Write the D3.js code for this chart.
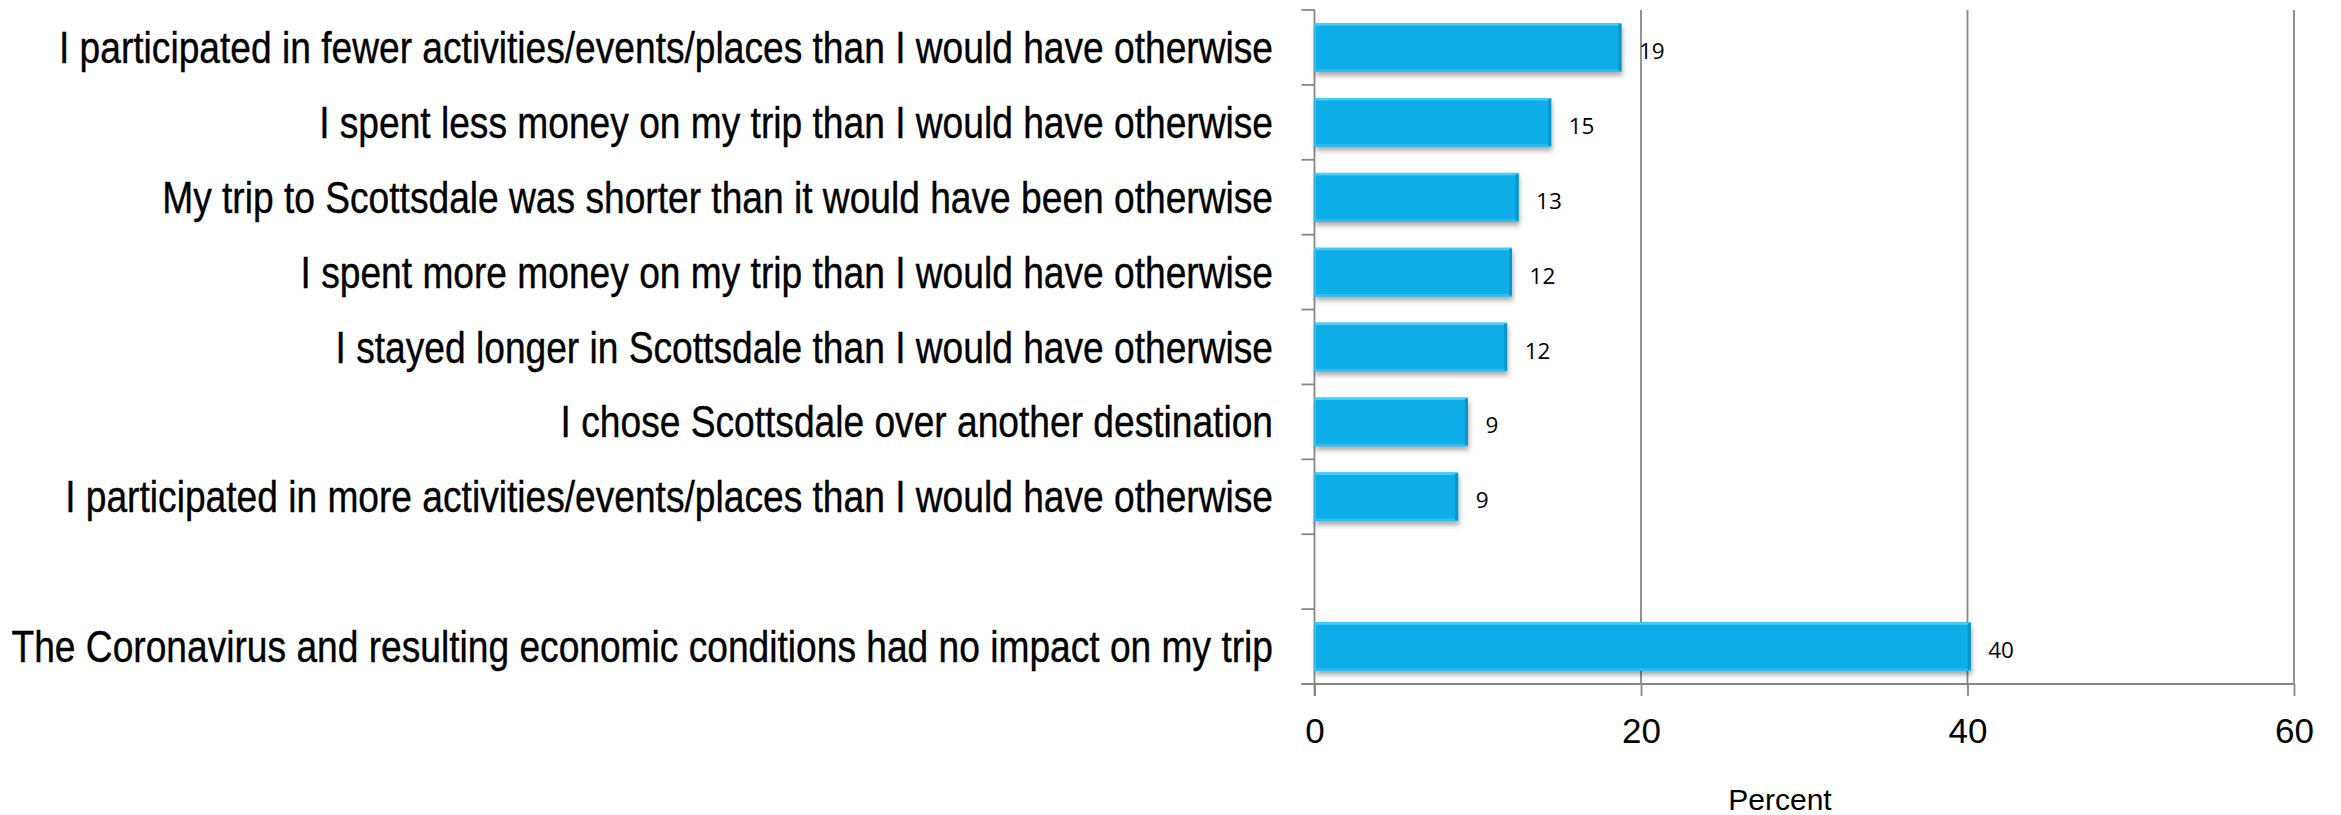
<!DOCTYPE html>
<html>
<head>
<meta charset="utf-8">
<script src="https://cdn.jsdelivr.net/npm/d3@7"></script>
<style>
  html, body { margin: 0; padding: 0; background: #ffffff; }
  svg { display: block; }
</style>
</head>
<body>
<svg id="chart" width="2341" height="815"></svg>
<script>
// ---- data ----
const categories = [
  "I participated in fewer activities/events/places than I would have otherwise",
  "I spent less money on my trip than I would have otherwise",
  "My trip to Scottsdale was shorter than it would have been otherwise",
  "I spent more money on my trip than I would have otherwise",
  "I stayed longer in Scottsdale than I would have otherwise",
  "I chose Scottsdale over another destination",
  "I participated in more activities/events/places than I would have otherwise",
  "",
  "The Coronavirus and resulting economic conditions had no impact on my trip"
];
const values = [18.8, 14.5, 12.5, 12.1, 11.8, 9.4, 8.8, null, 40.2];
const xTicks = [0, 20, 40, 60];
const xTitle = "Percent";

// ---- layout ----
const plotLeft = 1314.5, plotRight = 2294, plotTop = 10, plotBottom = 684;
const svg = d3.select("#chart");

const x = d3.scaleLinear().domain([0, 60]).range([plotLeft, plotRight]);
const y = d3.scaleBand().domain(d3.range(categories.length))
  .range([plotTop, plotBottom]).paddingInner(0.35).paddingOuter(0.175);

const gridColor = "#878787";

// defs: shadow
const defs = svg.append("defs");
const f = defs.append("filter").attr("id", "shadow")
  .attr("x", "-5%").attr("y", "-20%").attr("width", "115%").attr("height", "160%");
f.append("feDropShadow").attr("dx", 1).attr("dy", 4).attr("stdDeviation", 2.5)
  .attr("flood-color", "#000").attr("flood-opacity", 0.33);

// gridlines
svg.append("g").selectAll("line").data(xTicks.filter(d => d > 0)).join("line")
  .attr("x1", d => x(d)).attr("x2", d => x(d))
  .attr("y1", plotTop).attr("y2", plotBottom)
  .attr("stroke", gridColor).attr("stroke-width", 1.8);

// x axis
const xAxis = svg.append("g").attr("transform", `translate(0,${plotBottom})`)
  .call(d3.axisBottom(x).tickValues(xTicks).tickSize(12).tickPadding(22).tickSizeOuter(0));
xAxis.select(".domain").remove();
xAxis.selectAll(".tick line").attr("stroke", gridColor).attr("stroke-width", 1.8);
xAxis.selectAll(".tick text").attr("font-family", "'Liberation Sans', Arial, sans-serif")
  .attr("font-size", 35).attr("fill", "#000").attr("dy", "0.71em");
svg.append("line").attr("x1", plotLeft - 13).attr("x2", plotRight)
  .attr("y1", plotBottom).attr("y2", plotBottom)
  .attr("stroke", gridColor).attr("stroke-width", 1.8);

// y axis line & ticks at band boundaries
svg.append("line").attr("x1", plotLeft).attr("x2", plotLeft)
  .attr("y1", plotTop).attr("y2", plotBottom + 12)
  .attr("stroke", gridColor).attr("stroke-width", 1.8);
const step = y.step();
svg.append("g").selectAll("line").data(d3.range(categories.length + 1)).join("line")
  .attr("x1", plotLeft - 13).attr("x2", plotLeft)
  .attr("y1", i => plotTop + i * step).attr("y2", i => plotTop + i * step)
  .attr("stroke", gridColor).attr("stroke-width", 1.8);

// bars
const barData = categories.map((c, i) => ({ c, i, v: values[i] })).filter(d => d.v != null);
const bars = svg.append("g").selectAll("g").data(barData).join("g");
bars.append("rect")
  .attr("x", x(0)).attr("y", d => y(d.i))
  .attr("width", d => x(d.v) - x(0)).attr("height", y.bandwidth())
  .attr("fill", "#0AAEE8").attr("filter", "url(#shadow)");
bars.append("rect")
  .attr("x", x(0)).attr("y", d => y(d.i))
  .attr("width", d => x(d.v) - x(0)).attr("height", 2.5)
  .attr("fill", "#45CDF7");
bars.append("rect")
  .attr("x", x(0)).attr("y", d => y(d.i) + y.bandwidth() - 2.5)
  .attr("width", d => x(d.v) - x(0)).attr("height", 2.5)
  .attr("fill", "#2EBDEE");
bars.append("rect")
  .attr("x", d => x(d.v) - 3).attr("y", d => y(d.i) + 1)
  .attr("width", 3).attr("height", y.bandwidth() - 2)
  .attr("fill", "#0896CB");
bars.append("rect")
  .attr("x", x(0)).attr("y", d => y(d.i))
  .attr("width", 1.5).attr("height", y.bandwidth())
  .attr("fill", "#36C3F2");

// value labels
const fmt = d3.format(".0f");
bars.append("text")
  .attr("x", d => x(d.v) + 17.5)
  .attr("y", d => y(d.i) + y.bandwidth() / 2 + 3)
  .attr("dominant-baseline", "central")
  .attr("font-family", "'Open Sans', 'Noto Sans', sans-serif")
  .attr("font-size", 22.5).attr("fill", "#000")
  .text(d => fmt(d.v));

// category labels (horizontally condensed)
const labels = svg.append("g").selectAll("text").data(categories.map((c, i) => ({ c, i }))).join("text")
  .attr("text-anchor", "end")
  .attr("font-family", "'Liberation Sans', Arial, sans-serif")
  .attr("font-size", 45).attr("fill", "#000")
  .attr("stroke", "#000").attr("stroke-width", 0.4)
  .text(d => d.c);
const refNode = labels.filter(d => d.i === categories.length - 1).node();
const natural = refNode.getComputedTextLength();
const sx = 1262 / natural;
const labelRight = 1273;
labels.attr("transform", d => `translate(${labelRight},${y(d.i) + y.bandwidth() / 2 + 15.5}) scale(${sx},1)`);

// x title
svg.append("text").attr("x", 1780).attr("y", 810)
  .attr("text-anchor", "middle")
  .attr("font-family", "'Liberation Sans', Arial, sans-serif")
  .attr("font-size", 30).attr("fill", "#000")
  .text(xTitle);
</script>
</body>
</html>
